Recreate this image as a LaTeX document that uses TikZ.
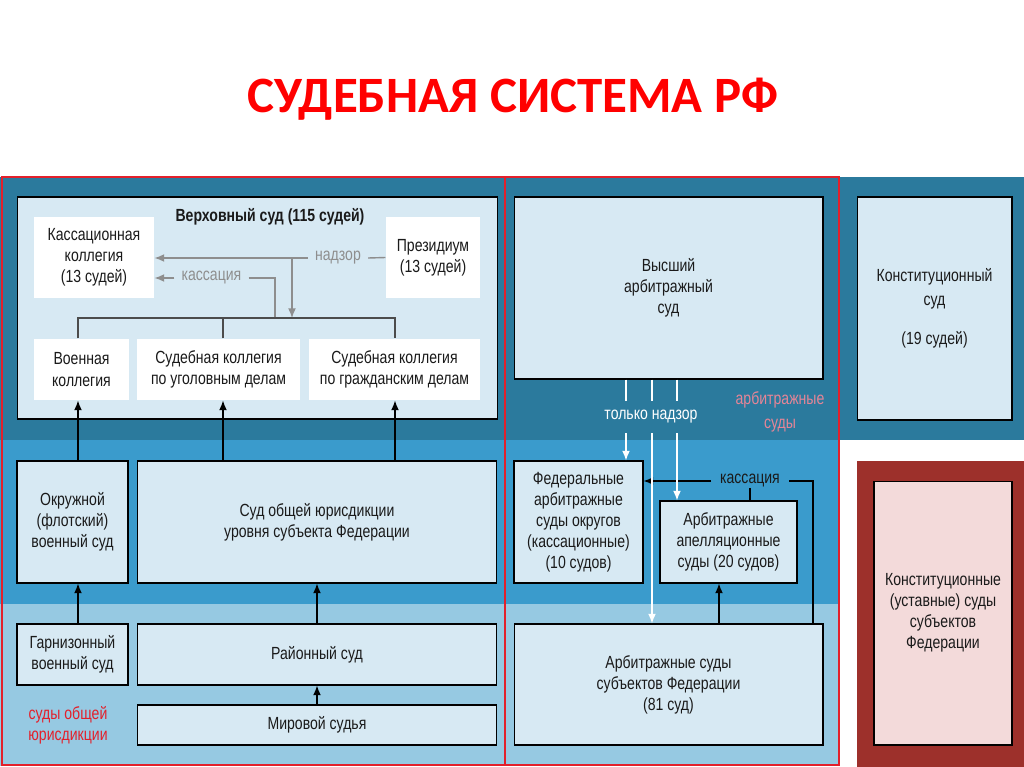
\documentclass[tikz,border=0pt]{standalone}
\usepackage{fontspec}
\usetikzlibrary{arrows.meta,positioning,calc}
\setmainfont{Liberation Sans}
\newfontfamily\narrowfont[FakeStretch=0.8]{Liberation Sans}
\newfontfamily\titlefont{Carlito}
\definecolor{bandd}{HTML}{2B7A9D}
\definecolor{bandm}{HTML}{3A9BCC}
\definecolor{bandl}{HTML}{96C9E2}
\definecolor{boxfill}{HTML}{D7E9F3}
\definecolor{framered}{HTML}{E3202B}
\definecolor{crimson}{HTML}{9D302B}
\definecolor{pinkfill}{HTML}{F3DADA}
\definecolor{arrgray}{HTML}{8E8E8E}
\definecolor{arbpink}{HTML}{E58597}
\definecolor{txt}{HTML}{1A1A1A}
\newcommand\boxfont{\narrowfont\fontsize{10pt}{12pt}\selectfont}

\begin{document}
\begin{tikzpicture}[x=0.02cm,y=-0.02cm,
    box/.style={draw=black,line width=0.6pt,fill=boxfill,align=center,font=\boxfont,text=txt,inner sep=0pt},
    wbox/.style={box,draw=none,fill=white},
    lbl/.style={align=center,font=\boxfont,inner sep=0pt},
    tip/.style={-{Latex[length=5.5pt,width=4.5pt]}},
    barr/.style={tip,line width=0.8pt,draw=black},
    garr/.style={tip,line width=0.8pt,draw=arrgray},
    warr/.style={tip,line width=0.8pt,draw=white},
    ln/.style={line width=0.6pt,draw=black!70}]
  \useasboundingbox (0,0) rectangle (1024,767);
  % background bands
  \fill[bandd] (0,177) rectangle (1024,440);
  \fill[bandm] (0,440) rectangle (840,604);
  \fill[bandl] (0,604) rectangle (840,766);
  \fill[crimson] (857,461) rectangle (1024,767);
  \draw[framered,line width=1.2pt] (2,177) rectangle (505,765);
  \draw[framered,line width=1.2pt] (505,177) rectangle (839,765);

  \node[font=\titlefont\bfseries\fontsize{29pt}{34pt}\selectfont,text=red] (title) at (513,99) {СУДЕБНАЯ СИСТЕМА РФ};

  % supreme court
  \node[box,minimum width=9.62cm,minimum height=4.44cm] (vs) at (257.5,308) {};
  \node[lbl,font=\boxfont\bfseries,text=txt] (vstitle) at (270,217) {Верховный суд (115 судей)};
  \node[wbox,minimum width=2.4cm,minimum height=1.62cm] (kass) at (94,257.5) {Кассационная\\коллегия\\(13 судей)};
  \node[wbox,minimum width=1.88cm,minimum height=1.62cm] (prez) at (433,257.5) {Президиум\\(13 судей)};
  \node[wbox,minimum width=1.9cm,minimum height=1.22cm] (voen) at (81.5,369.5) {Военная\\коллегия};
  \node[wbox,minimum width=3.26cm,minimum height=1.22cm] (ugol) at (218.5,369.5) {Судебная коллегия\\по уголовным делам};
  \node[wbox,minimum width=3.42cm,minimum height=1.22cm] (grazh) at (394.5,369.5) {Судебная коллегия\\по гражданским делам};

  % general courts
  \node[box,minimum width=2.22cm,minimum height=2.44cm] (okr) at (72.5,522) {Окружной\\(флотский)\\военный суд};
  \node[box,minimum width=7.2cm,minimum height=2.44cm] (sojs) at (317,522) {Суд общей юрисдикции\\уровня субъекта Федерации};
  \node[box,minimum width=2.22cm,minimum height=1.22cm] (garn) at (72.5,654.5) {Гарнизонный\\военный суд};
  \node[box,minimum width=7.2cm,minimum height=1.22cm] (rayon) at (317,654.5) {Районный суд};
  \node[box,minimum width=7.2cm,minimum height=0.8cm] (mir) at (317,725) {Мировой судья};
  \node[lbl,text=framered] (sojlbl) at (68,725) {суды общей\\юрисдикции};

  % arbitration courts
  \node[box,minimum width=6.18cm,minimum height=3.64cm] (vas) at (668.5,288) {Высший\\арбитражный\\суд};
  \node[box,minimum width=2.58cm,minimum height=2.44cm] (fas) at (578.5,522) {Федеральные\\арбитражные\\суды округов\\(кассационные)\\(10 судов)};
  \node[box,minimum width=2.74cm,minimum height=1.64cm] (aas) at (728.5,542) {Арбитражные\\апелляционные\\суды (20 судов)};
  \node[box,minimum width=6.18cm,minimum height=2.42cm] (asf) at (668.5,684.5) {Арбитражные суды\\субъектов Федерации\\(81 суд)};
  \node[lbl,text=white,minimum height=0.64cm] (tn) at (651,417) {только надзор};
  \node[lbl,text=arbpink] (arbl) at (780,412) {арбитражные\\[2pt]суды};

  % constitutional courts
  \node[box,minimum width=3.1cm,minimum height=4.46cm,font=\narrowfont\fontsize{10pt}{13.5pt}\selectfont] (ks) at (934.5,308.5) {Конституционный\\суд\\[9pt](19 судей)};
  \node[box,fill=pinkfill,minimum width=2.76cm,minimum height=5.28cm] (kss) at (943,613) {Конституционные\\(уставные) суды\\субъектов\\Федерации};

  % column positions
  \coordinate (colA) at (78,0);
  \coordinate (colB) at (223,0);
  \coordinate (colC) at (395,0);
  \coordinate (drop) at (292,318);
  \coordinate (kj) at (275,318);

  % inside the supreme court
  \node[lbl,text=arrgray,inner xsep=4pt] (nadz) at (338,258) {надзор};
  \node[lbl,text=arrgray,inner xsep=4pt] (kassac) at (211.5,278) {кассация};
  \draw[line width=0.8pt,arrgray] (prez.west) -- (nadz.east);
  \draw[garr] (nadz.west) -- (kass.east |- nadz.west);
  \draw[garr] (drop |- nadz) -- (drop);
  \draw[garr] (kassac.west) -- (kass.east |- kassac.west);
  \draw[line width=0.8pt,arrgray] (kassac.east) -| (kj);
  \draw[ln] (voen.north -| colA) -- (colA |- drop) -- (colC |- drop) -- (grazh.north -| colC);
  \draw[ln] (ugol.north -| colB) -- (colB |- drop);

  % appeals upwards
  \draw[barr] (okr.north -| colA) -- (voen.south -| colA);
  \draw[barr] (sojs.north -| colB) -- (ugol.south -| colB);
  \draw[barr] (sojs.north -| colC) -- (grazh.south -| colC);
  \draw[barr] (garn.north -| colA) -- (okr.south -| colA);
  \draw[barr] (rayon.north) -- (sojs.south);
  \draw[barr] (mir.north) -- (rayon.south);

  % arbitration links
  \coordinate (wa) at (626,0);
  \coordinate (wb) at (652,0);
  \coordinate (wc) at (677,0);
  \coordinate (ka) at (813,0);
  \coordinate (kb) at (719,0);
  \node[lbl,text=txt,inner xsep=5pt] (kas2) at (750,481) {кассация};
  \draw[barr] (kas2.west) -- (fas.east |- kas2.west);
  \draw[line width=0.8pt] (asf.north -| ka) |- (kas2.east);
  \draw[line width=0.8pt] (kas2.south) -- (aas.north -| kas2.south);
  \draw[barr] (asf.north -| kb) -- (aas.south -| kb);
  \draw[white,line width=0.8pt] (vas.south -| wa) -- (tn.north -| wa);
  \draw[white,line width=0.8pt] (vas.south -| wb) -- (tn.north -| wb);
  \draw[white,line width=0.8pt] (vas.south -| wc) -- (tn.north -| wc);
  \draw[warr] (tn.south -| wa) -- (fas.north -| wa);
  \draw[warr] (tn.south -| wb) -- (asf.north -| wb);
  \draw[warr] (tn.south -| wc) -- (aas.north -| wc);
\end{tikzpicture}
\end{document}
